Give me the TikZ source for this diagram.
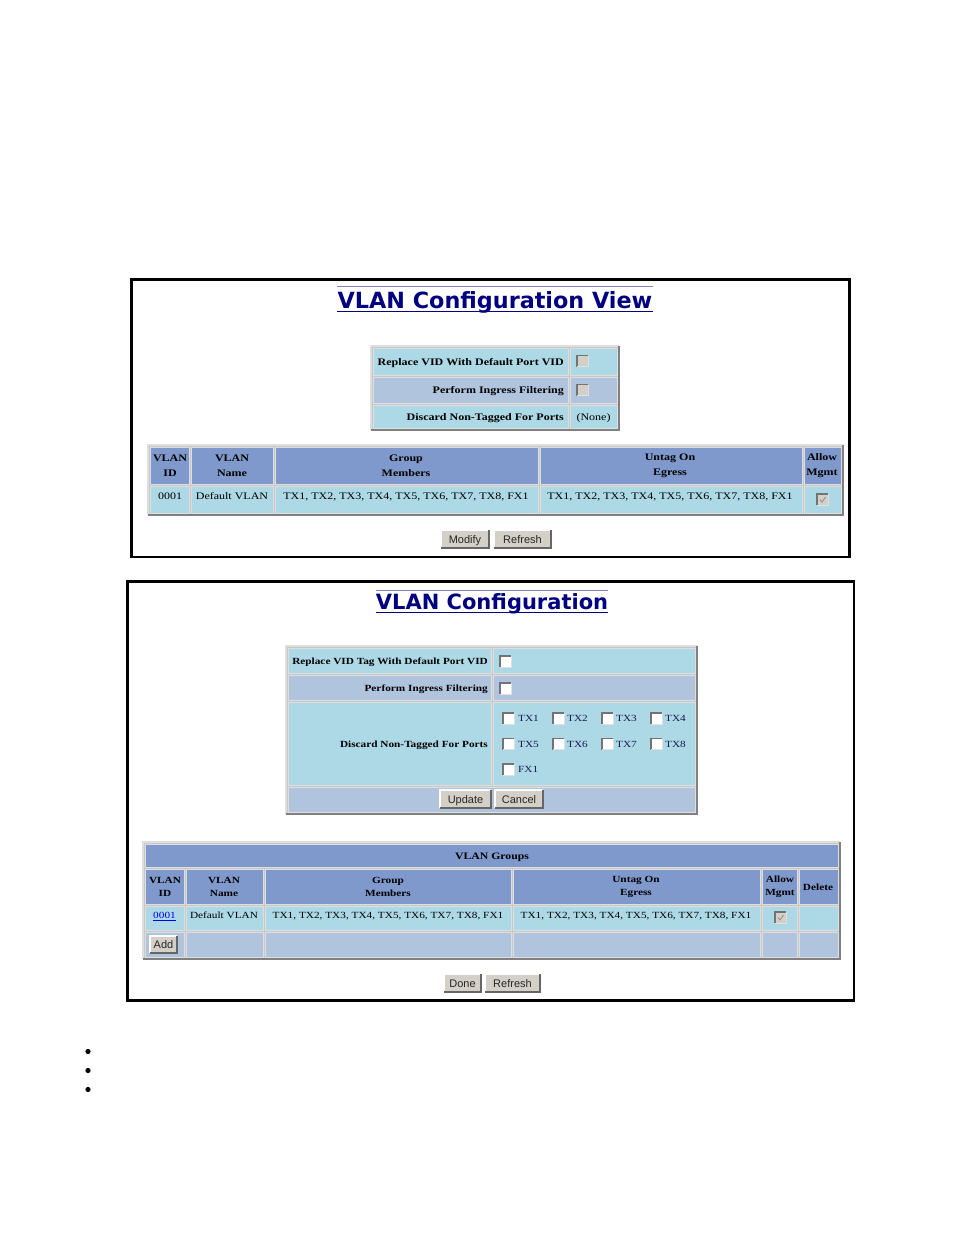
\documentclass[tikz,border=0pt]{standalone}
\usepackage{fontspec}
\setmainfont{Liberation Serif}
\newfontfamily\cellfont{Liberation Serif}[FakeStretch=1.2]
\newfontfamily\ttlfont{DejaVu Sans}
\newfontfamily\btnfont{Liberation Sans}
\usetikzlibrary{calc}
\definecolor{lb}{RGB}{173,216,230}
\definecolor{lsb}{RGB}{176,196,222}
\definecolor{hdr}{RGB}{127,153,204}
\definecolor{tbg}{RGB}{200,200,200}
\definecolor{hil}{RGB}{222,222,222}
\definecolor{shd}{RGB}{128,128,128}
\definecolor{btnf}{RGB}{212,208,200}
\definecolor{navyc}{RGB}{0,0,128}
\definecolor{ttlline}{RGB}{130,130,185}
\definecolor{linkb}{RGB}{0,0,238}
\definecolor{porttxt}{RGB}{25,25,80}
\tikzset{
  frame/.style={draw=black,line width=2.5pt},
  cellA/.style={font={\cellfont\fontsize{10}{15}\selectfont},inner sep=0pt,align=center},
  cellB/.style={font={\cellfont\fontsize{9.4}{13}\selectfont},inner sep=0pt,align=center},
  btn/.style={font={\btnfont\fontsize{11}{12}\selectfont},inner sep=0pt,text=black!85,text height=8pt,text depth=0pt},
  ttl/.style={font={\ttlfont\bfseries\fontsize{22.3}{24}\selectfont},inner sep=0pt,text=navyc,anchor=base},
  sep/.style={draw=hil,line width=0.8pt}
}
\newcommand\cellbox[5]{\fill[#5] (#1,#2) rectangle (#3,#4);\draw[sep] (#1,#2) rectangle (#3,#4);}
\newcommand\outerbd[4]{%
  \fill[tbg] (#1,#2) rectangle (#3,#4);
  \draw[hil,line width=2pt] (#1,#4) -- (#1,#2) -- (#3,#2);
  \draw[shd,line width=2pt] (#3,#2) -- (#3,#4) -- (#1,#4);}
\newcommand\mybtn[6]{%
  \fill[btnf] (#2,#3) rectangle (#4,#5);
  \draw[white,line width=1.2pt] (#2,#5) -- (#2,#3) -- (#4,#3);
  \draw[black!60,line width=1.5pt] (#4,#3) -- (#4,#5) -- (#2,#5);
  \node[btn] (#1) at ({(#2+#4)/2},{(#3+#5)/2}) {#6};}
\newcommand\chkb[3]{%
  \fill[#3] (#1,#2) rectangle ++(11,11);
  \draw[black!55,line width=1.1pt] ({#1},{#2+11}) -- ({#1},{#2}) -- ({#1+11},{#2});
  \draw[black!12,line width=0.8pt] ({#1+11},{#2}) -- ({#1+11},{#2+11}) -- ({#1},{#2+11});}
\newcommand\tick[2]{\draw[black!45,line width=0.8pt] ({#1+3},{#2+5.5}) -- ({#1+5},{#2+8}) -- ({#1+8.5},{#2+3});}
\begin{document}
\begin{tikzpicture}[x=1pt,y=-1pt]
\useasboundingbox (0,0) rectangle (954,1235);
\fill[white] (0,0) rectangle (954,1235);

% ================= Frame 1 =================
\draw[frame] (131.5,279.5) rectangle (849.5,557);
\node[ttl] (t1) at (495,308) {VLAN Configuration View};
\draw[ttlline,line width=0.9pt] ($(t1.base west)+(0,-22)$) -- ($(t1.base east)+(0,-22)$);
\draw[navyc,line width=1.2pt] ($(t1.base west)+(0,3.5)$) -- ($(t1.base east)+(0,3.5)$);

% small table
\outerbd{371}{346}{619}{430}
\cellbox{373}{348}{568}{375}{lb}
\cellbox{570}{348}{617}{375}{lb}
\cellbox{373}{377}{568}{403}{lsb}
\cellbox{570}{377}{617}{403}{lsb}
\cellbox{373}{405}{568}{428}{lb}
\cellbox{570}{405}{617}{428}{lb}
\node[cellA,font={\cellfont\bfseries\fontsize{10}{12}\selectfont},anchor=mid east] (a1) at (564,363) {Replace VID With Default Port VID};
\node[cellA,font={\cellfont\bfseries\fontsize{10}{12}\selectfont},anchor=mid east] (a2) at (564,391) {Perform Ingress Filtering};
\node[cellA,font={\cellfont\bfseries\fontsize{10}{12}\selectfont},anchor=mid east] (a3) at (564,418) {Discard Non-Tagged For Ports};
\chkb{577}{355.5}{btnf}
\chkb{577}{384.5}{btnf}
\node[cellA,anchor=mid] (a4) at (593.5,418) {(None)};

% main table 1
\outerbd{148}{445}{843}{515}
\cellbox{150}{447}{189}{484}{hdr}
\cellbox{191}{447}{273}{484}{hdr}
\cellbox{275}{447}{538}{484}{hdr}
\cellbox{540}{447}{802}{484}{hdr}
\cellbox{804}{447}{841}{484}{hdr}
\cellbox{150}{486}{189}{513}{lb}
\cellbox{191}{486}{273}{513}{lb}
\cellbox{275}{486}{538}{513}{lb}
\cellbox{540}{486}{802}{513}{lb}
\cellbox{804}{486}{841}{513}{lb}
\node[cellA,font={\cellfont\bfseries\fontsize{10}{15}\selectfont}] (h1) at (170,466) {VLAN\\ID};
\node[cellA,font={\cellfont\bfseries\fontsize{10}{15}\selectfont}] (h2) at (232,466) {VLAN\\Name};
\node[cellA,font={\cellfont\bfseries\fontsize{10}{15}\selectfont}] (h3) at (406,466) {Group\\Members};
\node[cellA,font={\cellfont\bfseries\fontsize{10}{15}\selectfont}] (h4) at (670,466) {Untag On\\Egress};
\node[cellA,font={\cellfont\bfseries\fontsize{10}{15}\selectfont}] (h5) at (822,466) {Allow\\Mgmt};
\node[cellA,anchor=mid] (d1) at (170,497) {0001};
\node[cellA,anchor=mid] (d2) at (232,497) {Default VLAN};
\node[cellA,anchor=mid] (d3) at (406,497) {TX1, TX2, TX3, TX4, TX5, TX6, TX7, TX8, FX1};
\node[cellA,anchor=mid] (d4) at (670,497) {TX1, TX2, TX3, TX4, TX5, TX6, TX7, TX8, FX1};
\chkb{817}{494}{btnf}
\tick{817}{494}

\mybtn{b1}{441}{530}{489}{548}{Modify}
\mybtn{b2}{494}{530}{551}{548}{Refresh}

% ================= Frame 2 =================
\draw[frame] (127.5,581.5) rectangle (854,1000.5);
\node[ttl,font={\ttlfont\bfseries\fontsize{21}{23}\selectfont}] (t2) at (492,609) {VLAN Configuration};
\draw[ttlline,line width=0.9pt] ($(t2.base west)+(0,-18.5)$) -- ($(t2.base east)+(0,-18.5)$);
\draw[navyc,line width=1.2pt] ($(t2.base west)+(0,3.5)$) -- ($(t2.base east)+(0,3.5)$);

% settings table
\outerbd{286}{646}{697}{814}
\cellbox{288}{648}{491}{673}{lb}
\cellbox{493}{648}{695}{673}{lb}
\cellbox{288}{675}{491}{700}{lsb}
\cellbox{493}{675}{695}{700}{lsb}
\cellbox{288}{702}{491}{785}{lb}
\cellbox{493}{702}{695}{785}{lb}
\cellbox{288}{787}{695}{812}{lsb}
\node[cellB,font={\cellfont\bfseries\fontsize{9.4}{12}\selectfont},anchor=mid east] (s1) at (488,662) {Replace VID Tag With Default Port VID};
\node[cellB,font={\cellfont\bfseries\fontsize{9.4}{12}\selectfont},anchor=mid east] (s2) at (488,689) {Perform Ingress Filtering};
\node[cellB,font={\cellfont\bfseries\fontsize{9.4}{12}\selectfont},anchor=mid east] (s3) at (488,745) {Discard Non-Tagged For Ports};
\chkb{500}{656}{white}
\chkb{500}{683}{white}
% port checkboxes
\chkb{503}{713}{white}\node[cellB,anchor=mid west,text=porttxt] (p1) at (518,719.5) {TX1};
\chkb{553}{713}{white}\node[cellB,anchor=mid west,text=porttxt] (p2) at (567,719.5) {TX2};
\chkb{602}{713}{white}\node[cellB,anchor=mid west,text=porttxt] (p3) at (616,719.5) {TX3};
\chkb{651}{713}{white}\node[cellB,anchor=mid west,text=porttxt] (p4) at (665,719.5) {TX4};
\chkb{503}{738.5}{white}\node[cellB,anchor=mid west,text=porttxt] (p5) at (518,745) {TX5};
\chkb{553}{738.5}{white}\node[cellB,anchor=mid west,text=porttxt] (p6) at (567,745) {TX6};
\chkb{602}{738.5}{white}\node[cellB,anchor=mid west,text=porttxt] (p7) at (616,745) {TX7};
\chkb{651}{738.5}{white}\node[cellB,anchor=mid west,text=porttxt] (p8) at (665,745) {TX8};
\chkb{503}{764}{white}\node[cellB,anchor=mid west,text=porttxt] (p9) at (518,770.5) {FX1};
\mybtn{b3}{440}{790}{491}{808}{Update}
\mybtn{b4}{495}{790}{543}{808}{Cancel}

% VLAN Groups table
\outerbd{143}{842}{840}{959}
\cellbox{145}{844}{838}{867}{hdr}
\node[cellB,font={\cellfont\bfseries\fontsize{9.8}{12}\selectfont},anchor=mid] (g0) at (492,857) {VLAN Groups};
\cellbox{145}{869}{184}{904}{hdr}
\cellbox{186}{869}{263}{904}{hdr}
\cellbox{265}{869}{511}{904}{hdr}
\cellbox{513}{869}{760}{904}{hdr}
\cellbox{762}{869}{797}{904}{hdr}
\cellbox{799}{869}{838}{904}{hdr}
\cellbox{145}{906}{184}{930}{lb}
\cellbox{186}{906}{263}{930}{lb}
\cellbox{265}{906}{511}{930}{lb}
\cellbox{513}{906}{760}{930}{lb}
\cellbox{762}{906}{797}{930}{lb}
\cellbox{799}{906}{838}{930}{lb}
\cellbox{145}{932}{184}{957}{lsb}
\cellbox{186}{932}{263}{957}{lsb}
\cellbox{265}{932}{511}{957}{lsb}
\cellbox{513}{932}{760}{957}{lsb}
\cellbox{762}{932}{797}{957}{lsb}
\cellbox{799}{932}{838}{957}{lsb}
\node[cellB,font={\cellfont\bfseries\fontsize{9.4}{13}\selectfont}] (gh1) at (165,887) {VLAN\\ID};
\node[cellB,font={\cellfont\bfseries\fontsize{9.4}{13}\selectfont}] (gh2) at (224,887) {VLAN\\Name};
\node[cellB,font={\cellfont\bfseries\fontsize{9.4}{13}\selectfont}] (gh3) at (388,887) {Group\\Members};
\node[cellB,font={\cellfont\bfseries\fontsize{9.4}{13}\selectfont}] (gh4) at (636,887) {Untag On\\Egress};
\node[cellB,font={\cellfont\bfseries\fontsize{9.4}{13}\selectfont}] (gh5) at (780,887) {Allow\\Mgmt};
\node[cellB,font={\cellfont\bfseries\fontsize{9.4}{13}\selectfont},anchor=mid] (gh6) at (818,888) {Delete};
\node[cellB,anchor=mid,text=linkb] (gd1) at (164.5,916) {\underline{0001}};
\node[cellB,anchor=mid] (gd2) at (224,916) {Default VLAN};
\node[cellB,anchor=mid] (gd3) at (388,916) {TX1, TX2, TX3, TX4, TX5, TX6, TX7, TX8, FX1};
\node[cellB,anchor=mid] (gd4) at (636,916) {TX1, TX2, TX3, TX4, TX5, TX6, TX7, TX8, FX1};
\chkb{775}{912}{btnf}
\tick{775}{912}
\mybtn{b5}{150}{936}{177}{953}{Add}

\mybtn{b6}{444}{974}{481}{992}{Done}
\mybtn{b7}{485}{974}{540}{992}{Refresh}

% bullets
\fill[black] (88,1051.5) circle (2.6);
\fill[black] (88,1070.5) circle (2.6);
\fill[black] (88,1089.5) circle (2.6);
\end{tikzpicture}
\end{document}
